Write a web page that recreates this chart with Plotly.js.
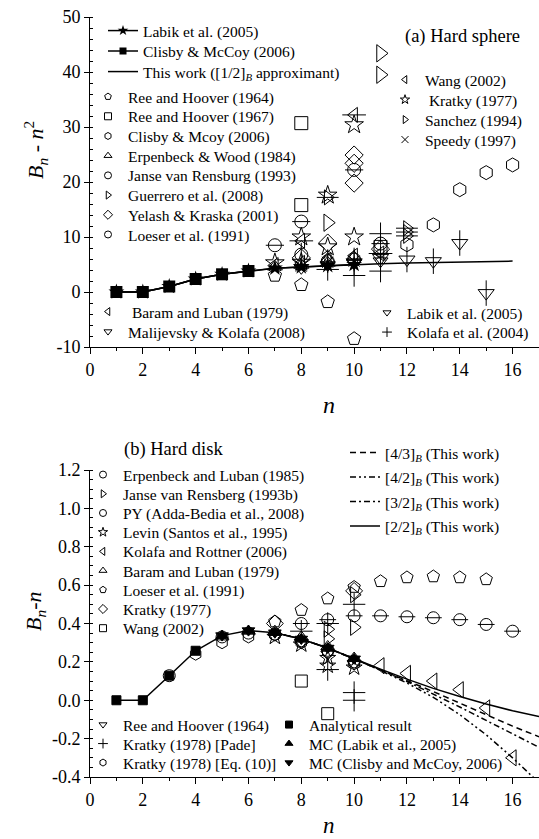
<!DOCTYPE html>
<html><head><meta charset="utf-8">
<script src="https://cdn.plot.ly/plotly-3.0.1.min.js"></script>
<style>html,body{margin:0;padding:0;background:#fff}#chart{width:539px;height:839px}</style>
</head><body><div id="chart"></div>
<script>
// ---------------- Panel (a) Hard sphere : B_n - n^2 ----------------
const hsWorkN = [1,2,3,4,5,6,7,8,9,10,11,12,13,14,15,16];
const hsWorkB = [0,0,1,2.36,3.22,3.82,4.3,4.55,4.78,4.97,5.13,5.27,5.38,5.47,5.55,5.62];
const hsLabikN = [1,2,3,4,5,6,7,8,9,10];
const hsLabikB = [0,0,1,2.36,3.22,3.82,4.34,4.54,4.8,5.0];
const hsClisbyN = [1,2,3,4,5,6];
const hsClisbyB = [0,0,1,2.36,3.22,3.82];
const hsRH64N = [7,8,9,10];           const hsRH64B = [3.0,1.3,-1.8,-8.5];
const hsRH67N = [8,8,11];             const hsRH67B = [30.7,15.8,8.2];
const hsCM06N = [12,13,14,15,16];     const hsCM06B = [8.6,12.2,18.6,21.7,23.1];
const hsEW84N = [7,8,9,9,10];         const hsEW84B = [4.6,4.9,5.3,6.0,6.3];
const hsJvR93N = [8,9,10];            const hsJvR93B = [6.8,5.6,5.9];
const hsGue08N = [9,12,12,12];        const hsGue08B = [17.2,11.6,10.9,10.2];
const hsYK01N = [8,9,10,10,10,11];    const hsYK01B = [6.2,8.9,24.9,23.4,19.8,7.8];
const hsLoe91N = [7,8,10,11];         const hsLoe91B = [8.5,12.8,22.2,8.8];
const hsWang02N = [8,10,11];          const hsWang02B = [9.3,32.2,7.0];
const hsKra77N = [7,8,8,9,9,10,10];   const hsKra77B = [5.3,10.0,5.4,17.6,8.2,30.4,10.0];
const hsSan94N = [9,11,11];           const hsSan94B = [12.6,43.4,39.5];
const hsSpe97N = [8,9,10,11];         const hsSpe97B = [4.7,5.4,5.6,6.7];
const hsBL79N = [7,8,9,10];           const hsBL79B = [4.9,5.3,5.8,6.6];
const hsMK08N = [10,11,12,13,14,15];  const hsMK08B = [5.4,6.2,5.9,5.6,8.9,-0.2];
const hsLab05N = [8,9,10,11];         const hsLab05B = [4.4,4.9,5.3,5.6];
const hsKol04N = [9,10,11,11];        const hsKol04B = [4.1,3.0,10.6,3.8];

// ---------------- Panel (b) Hard disk : B_n - n ----------------
const hdN = [1,2,3,4,5,6,7,8,9,10,11,12,13,14,15,16,17];
const hd22 = [0,0,0.128,0.258,0.337,0.363,0.352,0.319,0.272,0.216,0.162,0.11,0.062,0.02,-0.02,-0.055,-0.085];
const hdPadeN = [7,8,9,10,11,12,13,14,15,16,17];
const hd43 = [0.352,0.319,0.272,0.216,0.16,0.103,0.045,-0.015,-0.075,-0.135,-0.19];
const hd42 = [0.352,0.319,0.272,0.216,0.155,0.09,0.015,-0.075,-0.18,-0.30,-0.43];
const hd32 = [0.352,0.319,0.272,0.216,0.158,0.098,0.033,-0.035,-0.105,-0.175,-0.245];
const hdAnaN = [1,2,3,4];             const hdAnaB = [0,0,0.128,0.258];
const hdMCN = [5,6,7,8,9,10];         const hdMCB = [0.337,0.363,0.352,0.319,0.272,0.216];
const hdEL85N = [3,5,6,7,8,9,10];     const hdEL85B = [0.128,0.33,0.35,0.345,0.31,0.26,0.2];
const hdJvRN = [9,9,10,10];           const hdJvRB = [0.37,0.32,0.55,0.38];
const hdPYN = [8,9,10,11,12,13,14,15,16];
const hdPYB = [0.40,0.42,0.44,0.44,0.435,0.43,0.42,0.395,0.36];
const hdLevN = [7,8,9,9,10];          const hdLevB = [0.33,0.29,0.22,0.18,0.17];
const hdKRN = [11,12,13,14,15,16];    const hdKRB = [0.18,0.14,0.10,0.055,-0.04,-0.30];
const hdBLN = [5,6,7,8,9,10];         const hdBLB = [0.33,0.36,0.36,0.33,0.28,0.22];
const hdLoeN = [7,8,9,10,11,12,13,14,15];
const hdLoeB = [0.41,0.47,0.53,0.59,0.62,0.64,0.645,0.64,0.63];
const hdKra77N = [7,10];              const hdKra77B = [0.40,0.57];
const hdWangN = [8,9];                const hdWangB = [0.10,-0.07];
const hdRH64N = [8,9,10];             const hdRH64B = [0.30,0.24,0.19];
const hdPadeKN = [8,9,9,10,10,10];    const hdPadeKB = [0.36,0.40,0.16,0.50,0.04,0.0];
const hdEq10N = [4,5,6,7,8,9,10];     const hdEq10B = [0.24,0.30,0.33,0.34,0.30,0.25,0.19];

// ticks
const aTickVals = [-10,0,10,20,30,40,50];
const aTickText = ['-10','0','10','20','30','40','50'];
const bTickVals = [-0.4,-0.2,0,0.2,0.4,0.6,0.8,1.0,1.2];
const bTickText = ['-0.4','-0.2','0.0','0.2','0.4','0.6','0.8','1.0','1.2'];
const xTickVals = [0,2,4,6,8,10,12,14,16];
const xTickText = ['0','2','4','6','8','10','12','14','16'];

const F = 'Liberation Serif, Times New Roman, serif';
const LFS = 15.5;   // legend font size
const W = 539, H = 839, ML = 90, MT = 17, MB = 62;
const PH = H - MT - MB;
const px = X => (X - ML) / (W - ML);     // pixel -> paper x
const py = Y => (H - MB - Y) / PH;        // pixel -> paper y

// legend blocks: left edge of item box, centre of first row, row pitch
const blocks = {
  A1:{x:103, y:31,  dy:20.5}, A2:{x:88, y:97, dy:19.7}, A3:{x:385, y:80, dy:20},
  A4:{x:88, y:312, dy:20},    A5:{x:367, y:313, dy:19.5},
  B1:{x:83, y:475, dy:19.2},  B2:{x:345, y:453, dy:24.5},
  B3:{x:83, y:725, dy:19},    B4:{x:269, y:725, dy:19}
};
const blockCount = {};
const legendLayouts = {};
let nLeg = 0;
function legendFor(block) {
  const b = blocks[block];
  const i = blockCount[block] || 0;
  blockCount[block] = i + 1;
  nLeg++;
  const id = nLeg === 1 ? 'legend' : 'legend' + nLeg;
  legendLayouts[id] = {x:px(b.x), y:py(b.y + i * b.dy), xanchor:'left', yanchor:'middle',
    bgcolor:'rgba(0,0,0,0)', borderwidth:0, font:{family:F, size:LFS, color:'black'},
    itemclick:false, itemdoubleclick:false};
  return id;
}

const traces = [];
function addLine(o) {
  const data = {type:'scatter', mode:o.mode || 'lines', x:o.x, y:o.y, xaxis:o.xa, yaxis:o.ya,
    line:{color:'black', width:1.5, dash:o.dash || 'solid'}, showlegend:false, hoverinfo:'skip'};
  const lg = {type:'scatter', mode:o.mode || 'lines', x:[null], y:[null], xaxis:o.xa, yaxis:o.ya,
    name:o.name, legend:legendFor(o.block),
    line:{color:'black', width:1.5, dash:o.dash || 'solid'}, showlegend:true, hoverinfo:'skip'};
  if (o.sym) {
    data.marker = {symbol:o.sym, size:o.size, color:'black'};
    lg.marker = {symbol:o.sym, size:o.lsize || 7, color:'black'};
  }
  traces.push(data, lg);
}
function addPts(o) {
  const push = (sym, size) => traces.push({type:'scatter', mode:'markers', x:o.x, y:o.y,
    xaxis:o.xa, yaxis:o.ya,
    marker:{symbol:sym, size:size, color:'black', line:{color:'black', width:1}},
    showlegend:false, hoverinfo:'skip'});
  push(o.sym, o.size);
  if (o.over) push(o.over, o.size * (o.overScale || 1));
  traces.push({type:'scatter', mode:'markers', x:[null], y:[null], xaxis:o.xa, yaxis:o.ya,
    name:o.name, legend:legendFor(o.block),
    marker:{symbol:o.sym, size:o.lsize || 7, color:'black', line:{color:'black', width:1}},
    showlegend:true, hoverinfo:'skip'});
}

// ---- panel (a) ----
const A = {xa:'x', ya:'y'};
addLine({...A, block:'A1', name:'Labik et al. (2005)', x:hsLabikN, y:hsLabikB, mode:'lines+markers', sym:'star', size:12, lsize:8});
addLine({...A, block:'A1', name:'Clisby &amp; McCoy (2006)', x:hsClisbyN, y:hsClisbyB, mode:'lines+markers', sym:'square', size:12, lsize:7});
addLine({...A, block:'A1', name:'This work ([1/2]<sub><i>B</i></sub> approximant)', x:hsWorkN, y:hsWorkB});

const S = 13;
addPts({...A, block:'A2', name:'Ree and Hoover (1964)', x:hsRH64N, y:hsRH64B, sym:'pentagon-open', size:S+1});
addPts({...A, block:'A2', name:'Ree and Hoover (1967)', x:hsRH67N, y:hsRH67B, sym:'square-open', size:S});
addPts({...A, block:'A2', name:'Clisby &amp; Mcoy (2006)', x:hsCM06N, y:hsCM06B, sym:'hexagon-open', size:S+1});
addPts({...A, block:'A2', name:'Erpenbeck &amp; Wood (1984)', x:hsEW84N, y:hsEW84B, sym:'triangle-up-open', size:S});
addPts({...A, block:'A2', name:'Janse van Rensburg (1993)', x:hsJvR93N, y:hsJvR93B, sym:'circle-open', size:S, over:'line-ns-open', overScale:1.3});
addPts({...A, block:'A2', name:'Guerrero et al. (2008)', x:hsGue08N, y:hsGue08B, sym:'triangle-right-open', size:S, over:'line-ew-open', overScale:1.2});
addPts({...A, block:'A2', name:'Yelash &amp; Kraska (2001)', x:hsYK01N, y:hsYK01B, sym:'diamond-open', size:S+1});
addPts({...A, block:'A2', name:'Loeser et al. (1991)', x:hsLoe91N, y:hsLoe91B, sym:'circle-open', size:S, over:'line-ew-open'});

addPts({...A, block:'A3', name:'Wang (2002)', x:hsWang02N, y:hsWang02B, sym:'triangle-left-open', size:S, over:'line-ew-open', overScale:1.3});
addPts({...A, block:'A3', name:'\u00a0Kratky (1977)', x:hsKra77N, y:hsKra77B, sym:'star-open', size:S+1});
addPts({...A, block:'A3', name:'Sanchez (1994)', x:hsSan94N, y:hsSan94B, sym:'triangle-right-open', size:S+2});
addPts({...A, block:'A3', name:'Speedy (1997)', x:hsSpe97N, y:hsSpe97B, sym:'x-thin-open', size:S-2});

addPts({...A, block:'A4', name:'\u00a0Baram and Luban (1979)', x:hsBL79N, y:hsBL79B, sym:'triangle-left-open', size:S});
addPts({...A, block:'A4', name:'Malijevsky &amp; Kolafa (2008)', x:hsMK08N, y:hsMK08B, sym:'triangle-down-open', size:S+1, over:'line-ns-open', overScale:1.3});

addPts({...A, block:'A5', name:'Labik et al. (2005)', x:hsLab05N, y:hsLab05B, sym:'triangle-down-open', size:S});
addPts({...A, block:'A5', name:'Kolafa et al. (2004)', x:hsKol04N, y:hsKol04B, sym:'cross-thin-open', size:S+3});

// ---- panel (b) ----
const B = {xa:'x2', ya:'y2'};
addLine({...B, block:'B2', name:'[4/3]<sub><i>B</i></sub> (This work)', x:hdPadeN, y:hd43, dash:'6px,4px'});
addLine({...B, block:'B2', name:'[4/2]<sub><i>B</i></sub> (This work)', x:hdPadeN, y:hd42, dash:'6px,3px,2px,3px,2px,3px'});
addLine({...B, block:'B2', name:'[3/2]<sub><i>B</i></sub> (This work)', x:hdPadeN, y:hd32, dash:'6px,3px,2px,3px'});
addLine({...B, block:'B2', name:'[2/2]<sub><i>B</i></sub> (This work)', x:hdN, y:hd22});

const T = 12;
addPts({...B, block:'B1', name:'Erpenbeck and Luban (1985)', x:hdEL85N, y:hdEL85B, sym:'circle-open', size:T});
addPts({...B, block:'B1', name:'Janse van Rensberg (1993b)', x:hdJvRN, y:hdJvRB, sym:'triangle-right-open', size:T+2});
addPts({...B, block:'B1', name:'PY (Adda-Bedia et al., 2008)', x:hdPYN, y:hdPYB, sym:'circle-open', size:T, over:'line-ew-open'});
addPts({...B, block:'B1', name:'Levin (Santos et al., 1995)', x:hdLevN, y:hdLevB, sym:'star-open', size:T});
addPts({...B, block:'B1', name:'Kolafa and Rottner (2006)', x:hdKRN, y:hdKRB, sym:'triangle-left-open', size:T+2});
addPts({...B, block:'B1', name:'Baram and Luban (1979)', x:hdBLN, y:hdBLB, sym:'triangle-up-open', size:T});
addPts({...B, block:'B1', name:'Loeser et al. (1991)', x:hdLoeN, y:hdLoeB, sym:'pentagon-open', size:T+1});
addPts({...B, block:'B1', name:'Kratky (1977)', x:hdKra77N, y:hdKra77B, sym:'diamond-open', size:T+1});
addPts({...B, block:'B1', name:'Wang (2002)', x:hdWangN, y:hdWangB, sym:'square-open', size:T});

addPts({...B, block:'B3', name:'Ree and Hoover (1964)', x:hdRH64N, y:hdRH64B, sym:'triangle-down-open', size:T});
addPts({...B, block:'B3', name:'Kratky (1978) [Pade]', x:hdPadeKN, y:hdPadeKB, sym:'cross-thin-open', size:T+4});
addPts({...B, block:'B3', name:'Kratky (1978) [Eq. (10)]', x:hdEq10N, y:hdEq10B, sym:'hexagon-open', size:T});

addPts({...B, block:'B4', name:'Analytical result', x:hdAnaN, y:hdAnaB, sym:'square', size:9});
addPts({...B, block:'B4', name:'MC (Labik et al., 2005)', x:hdMCN, y:hdMCB, sym:'triangle-up', size:11});
addPts({...B, block:'B4', name:'MC (Clisby and McCoy, 2006)', x:hdMCN, y:hdMCB, sym:'triangle-down', size:11});

// ---------------- layout ----------------
const xax = (anchor) => ({anchor, domain:[0,1], range:[0,17], tickvals:xTickVals, ticktext:xTickText,
  ticks:'outside', ticklen:6, tickwidth:1, tickcolor:'black',
  minor:{dtick:1, tick0:0, ticks:'outside', ticklen:3, tickcolor:'black'},
  showline:true, linecolor:'black', linewidth:1, showgrid:false, zeroline:false,
  tickfont:{family:F, size:18, color:'black'}});

const layout = Object.assign({
  width:W, height:H, margin:{l:ML, r:0, t:MT, b:MB}, paper_bgcolor:'white', plot_bgcolor:'white',
  font:{family:F, color:'black'}, showlegend:true,
  xaxis: xax('y'),
  xaxis2: xax('y2'),
  yaxis: {domain:[py(347), 1], range:[-10,50], tickvals:aTickVals, ticktext:aTickText,
    ticks:'outside', ticklen:5, tickcolor:'black',
    minor:{dtick:2, tick0:0, ticks:'inside', ticklen:3, tickcolor:'black'},
    showline:true, linecolor:'black', linewidth:1, showgrid:false, zeroline:false,
    tickfont:{family:F, size:18, color:'black'}, anchor:'x'},
  yaxis2: {domain:[0, py(470)], range:[-0.4,1.2], tickvals:bTickVals, ticktext:bTickText,
    ticks:'outside', ticklen:5, tickcolor:'black',
    minor:{dtick:0.05, tick0:0, ticks:'inside', ticklen:3, tickcolor:'black'},
    showline:true, linecolor:'black', linewidth:1, showgrid:false, zeroline:false,
    tickfont:{family:F, size:18, color:'black'}, anchor:'x2'},
  annotations: [
    {text:'(a) Hard sphere', xref:'paper', yref:'paper', x:px(403), y:py(37), xanchor:'left', yanchor:'middle', showarrow:false, font:{family:F, size:18.5}},
    {text:'(b) Hard disk', xref:'paper', yref:'paper', x:px(122), y:py(450), xanchor:'left', yanchor:'middle', showarrow:false, font:{family:F, size:18.5}},
    {text:'<i>B</i><sub><i>n</i></sub> - <i>n</i><sup>2</sup>', xref:'paper', yref:'paper', x:px(35), y:py(150), xanchor:'center', yanchor:'middle', textangle:-90, showarrow:false, font:{family:F, size:22}},
    {text:'<i>B</i><sub><i>n</i></sub>-<i>n</i>', xref:'paper', yref:'paper', x:px(35), y:py(612), xanchor:'center', yanchor:'middle', textangle:-90, showarrow:false, font:{family:F, size:22}},
    {text:'<i>n</i>', xref:'paper', yref:'paper', x:px(329), y:py(405), xanchor:'center', yanchor:'middle', showarrow:false, font:{family:F, size:24}},
    {text:'<i>n</i>', xref:'paper', yref:'paper', x:px(329), y:py(825), xanchor:'center', yanchor:'middle', showarrow:false, font:{family:F, size:23}}
  ]
}, legendLayouts);

Plotly.newPlot('chart', traces, layout, {staticPlot:true, displayModeBar:false});
</script>
</body></html>
